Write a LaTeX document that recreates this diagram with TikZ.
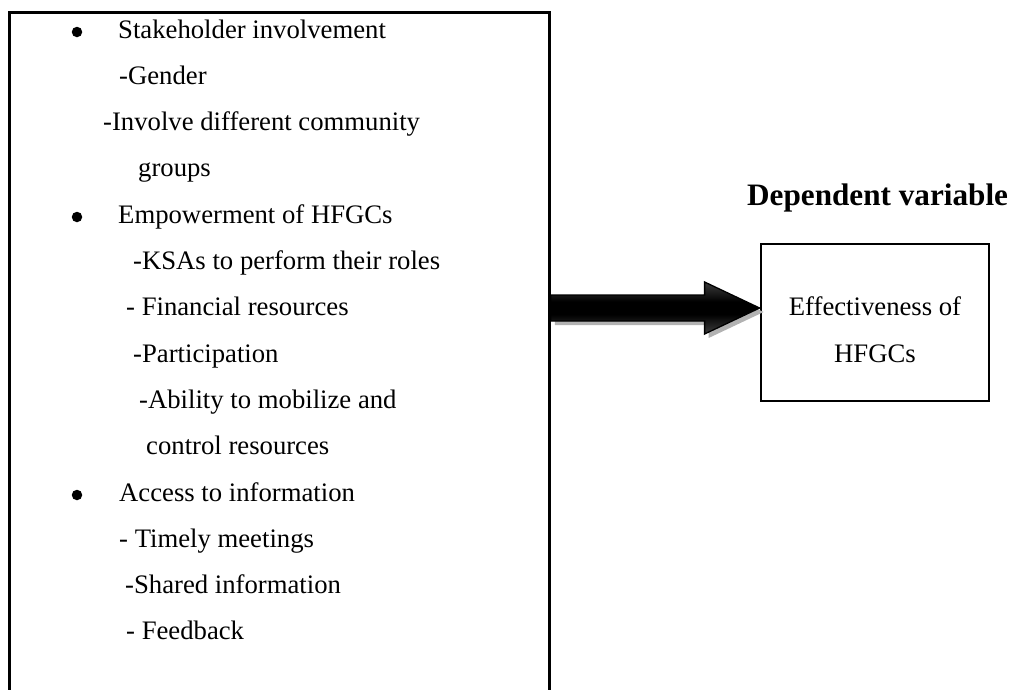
\documentclass[tikz,border=0pt]{standalone}
\usepackage{fontspec}
\setmainfont{Liberation Serif}
\usetikzlibrary{calc}
\pgfdeclareverticalshading{arrowshade}{100bp}{color(0bp)=(gray!95!black); color(30bp)=(gray!35!black); color(44bp)=(black); color(56bp)=(black); color(70bp)=(gray!35!black); color(100bp)=(gray!95!black)}
\begin{document}
\begin{tikzpicture}[x=1pt,y=-1pt,
  body/.style={inner sep=0pt, font=\fontsize{26.7}{47}\selectfont},
  bul/.style={circle, fill=black, inner sep=0pt, minimum size=10.5pt},
  frame/.style={draw=black, line width=2.8pt, inner sep=0pt},
  arrowpath/.style={line width=1.3pt, draw=black, shading=arrowshade}]
\useasboundingbox (0,0) rectangle (1014,689);
\clip (0,0) rectangle (1014,689);
% independent variable box (open at the bottom of the picture)
\node[frame, anchor=north west, minimum width=540pt, minimum height=720pt] (indep) at (8,11) {};
% dependent variable box
\node[frame, minimum width=228pt, minimum height=157pt] (dep) at (875,322.5) {};
\node[body, anchor=base] (eff1) at (875,315) {Effectiveness of};
\node[body, anchor=base] (eff2) at (875,362) {HFGCs};
\node[inner sep=0pt, anchor=base west, font=\fontsize{31.2}{36}\selectfont\bfseries] (deptitle) at (747,205) {Dependent variable};
% list
\node[bul] (b1) at (77,32) {};
\node[body, anchor=base west] (t1) at (118,38) {Stakeholder involvement};
\node[body, anchor=base west] (t2) at (119,84.3) {-Gender};
\node[body, anchor=base west] (t3) at (103,130.6) {-Involve different community};
\node[body, anchor=base west] (t4) at (138,176.9) {groups};
\node[bul] (b2) at (77,217) {};
\node[body, anchor=base west] (t5) at (118,223.2) {Empowerment of HFGCs};
\node[body, anchor=base west] (t6) at (133,269.5) {-KSAs to perform their roles};
\node[body, anchor=base west] (t7) at (126,315.8) {- Financial resources};
\node[body, anchor=base west] (t8) at (133,362.1) {-Participation};
\node[body, anchor=base west] (t9) at (139,408.4) {-Ability to mobilize and};
\node[body, anchor=base west] (t10) at (146,454.7) {control resources};
\node[bul] (b3) at (77,495) {};
\node[body, anchor=base west] (t11) at (119,501) {Access to information};
\node[body, anchor=base west] (t12) at (119,547.3) {- Timely meetings};
\node[body, anchor=base west] (t13) at (125,593.6) {-Shared information};
\node[body, anchor=base west] (t14) at (126,639.9) {- Feedback};
% block arrow
\coordinate (ta) at ($(indep.north east)+(0,297)$);
\coordinate (tb) at ($(dep.west)+(0,-14.5)$);
\begin{scope}[transform canvas={shift={(4pt,-4pt)}}]
\fill[gray!60] ($(ta)+(0,-13)$) -- ($(tb)+(-55,-13)$) -- ($(tb)+(-55,-26)$) -- (tb)
  -- ($(tb)+(-55,26)$) -- ($(tb)+(-55,13)$) -- ($(ta)+(0,13)$) -- cycle;
\end{scope}
\shade[arrowpath]
  ($(ta)+(0,-13)$) -- ($(tb)+(-55,-13)$) -- ($(tb)+(-55,-26)$) -- (tb)
  -- ($(tb)+(-55,26)$) -- ($(tb)+(-55,13)$) -- ($(ta)+(0,13)$) -- cycle;
\end{tikzpicture}
\end{document}
